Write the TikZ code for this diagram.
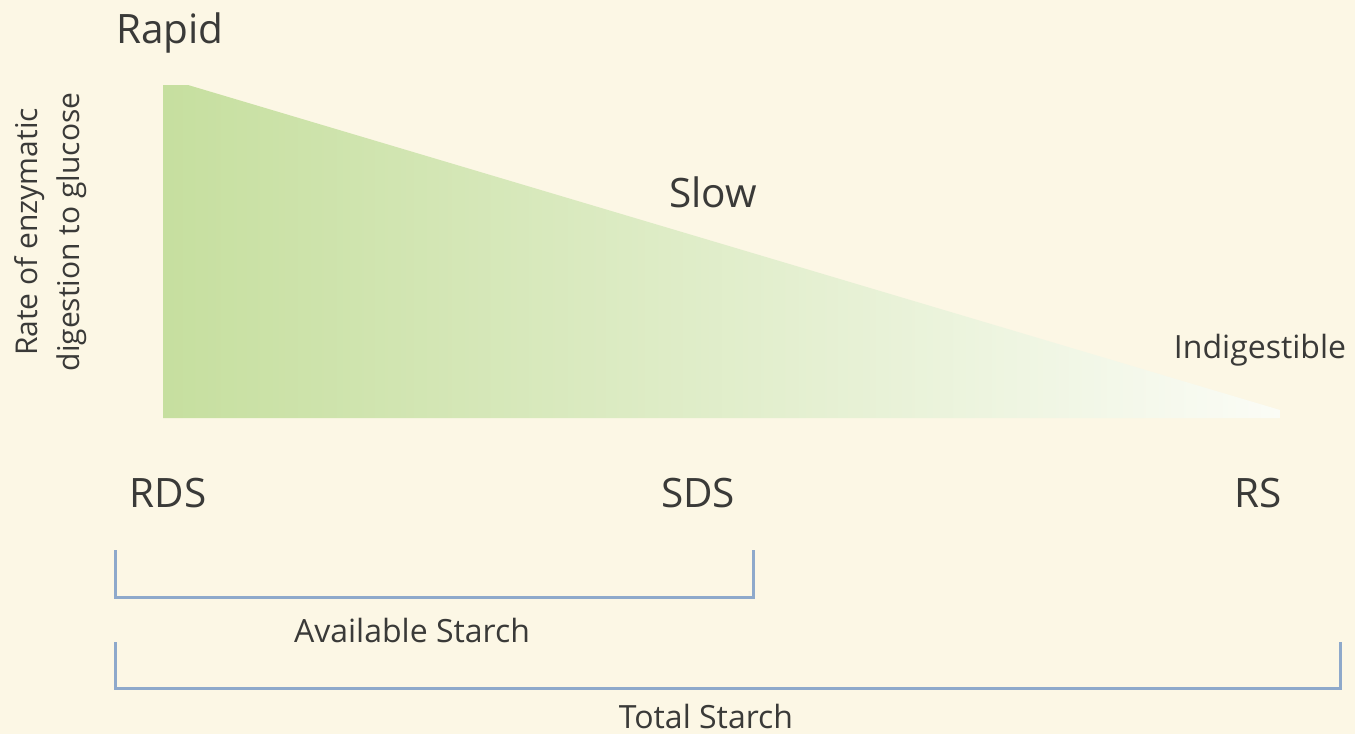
\documentclass[tikz,border=0pt]{standalone}
\usepackage{fontspec}
\setmainfont{Open Sans}
\usepackage{tikz}
\usetikzlibrary{positioning}

\definecolor{cream}{HTML}{FCF7E5}
\definecolor{starchgreen}{HTML}{C6DF9F}
\definecolor{paleend}{HTML}{FBFCF6}
\definecolor{inkgrey}{HTML}{3A3A38}
\definecolor{brackblue}{HTML}{8EA9CB}

\begin{document}
\begin{tikzpicture}[
  x=1pt, y=-1pt,
  % Text styles
  bigtext/.style={
    font=\fontsize{40.5}{46}\selectfont,
    text=inkgrey,
    inner sep=0pt
  },
  midtext/.style={
    font=\fontsize{32}{38}\selectfont,
    text=inkgrey,
    inner sep=0pt
  },
  % Bracket style
  bracket/.style={
    draw=brackblue,
    line width=3pt
  }
]

% === BACKGROUND ===
\fill[cream] (0,0) rectangle (1355,734);
\useasboundingbox (0,0) rectangle (1355,734);

% === WEDGE ===
\shade[left color=starchgreen, right color=paleend]
  (163,85) -- (188,85) -- (1280,410) -- (1280,418) -- (163,418) -- cycle;

% === RATE LABELS ===
\node[bigtext] (rapid) at (170,33) {Rapid};
\node[bigtext] (slow) at (713,192) {Slow};
\node[midtext] (indig) at (1260,350) {Indigestible};

\node[midtext, rotate=90, align=center, font=\fontsize{30}{42}\selectfont] (axis) at (51,232)
  {Rate of enzymatic\\digestion to glucose};

% === FRACTIONS ===
\node[bigtext] (rds) at (168,493) {RDS};
\node[bigtext] (sds) at (698,493) {SDS};
\node[bigtext] (rs) at (1258,493) {RS};

% === BRACKETS ===
\coordinate (availtop) at (115,550);
\coordinate (availend) at (753,597);
\draw[bracket] (availtop) |- (availend) -- (availend |- availtop);
\node[midtext] (avail) at (412,630) {Available Starch};

\coordinate (totaltop) at (115,642);
\coordinate (totalend) at (1340,688);
\draw[bracket] (totaltop) |- (totalend) -- (totalend |- totaltop);
\node[midtext] (total) at (706,716) {Total Starch};

\end{tikzpicture}
\end{document}
